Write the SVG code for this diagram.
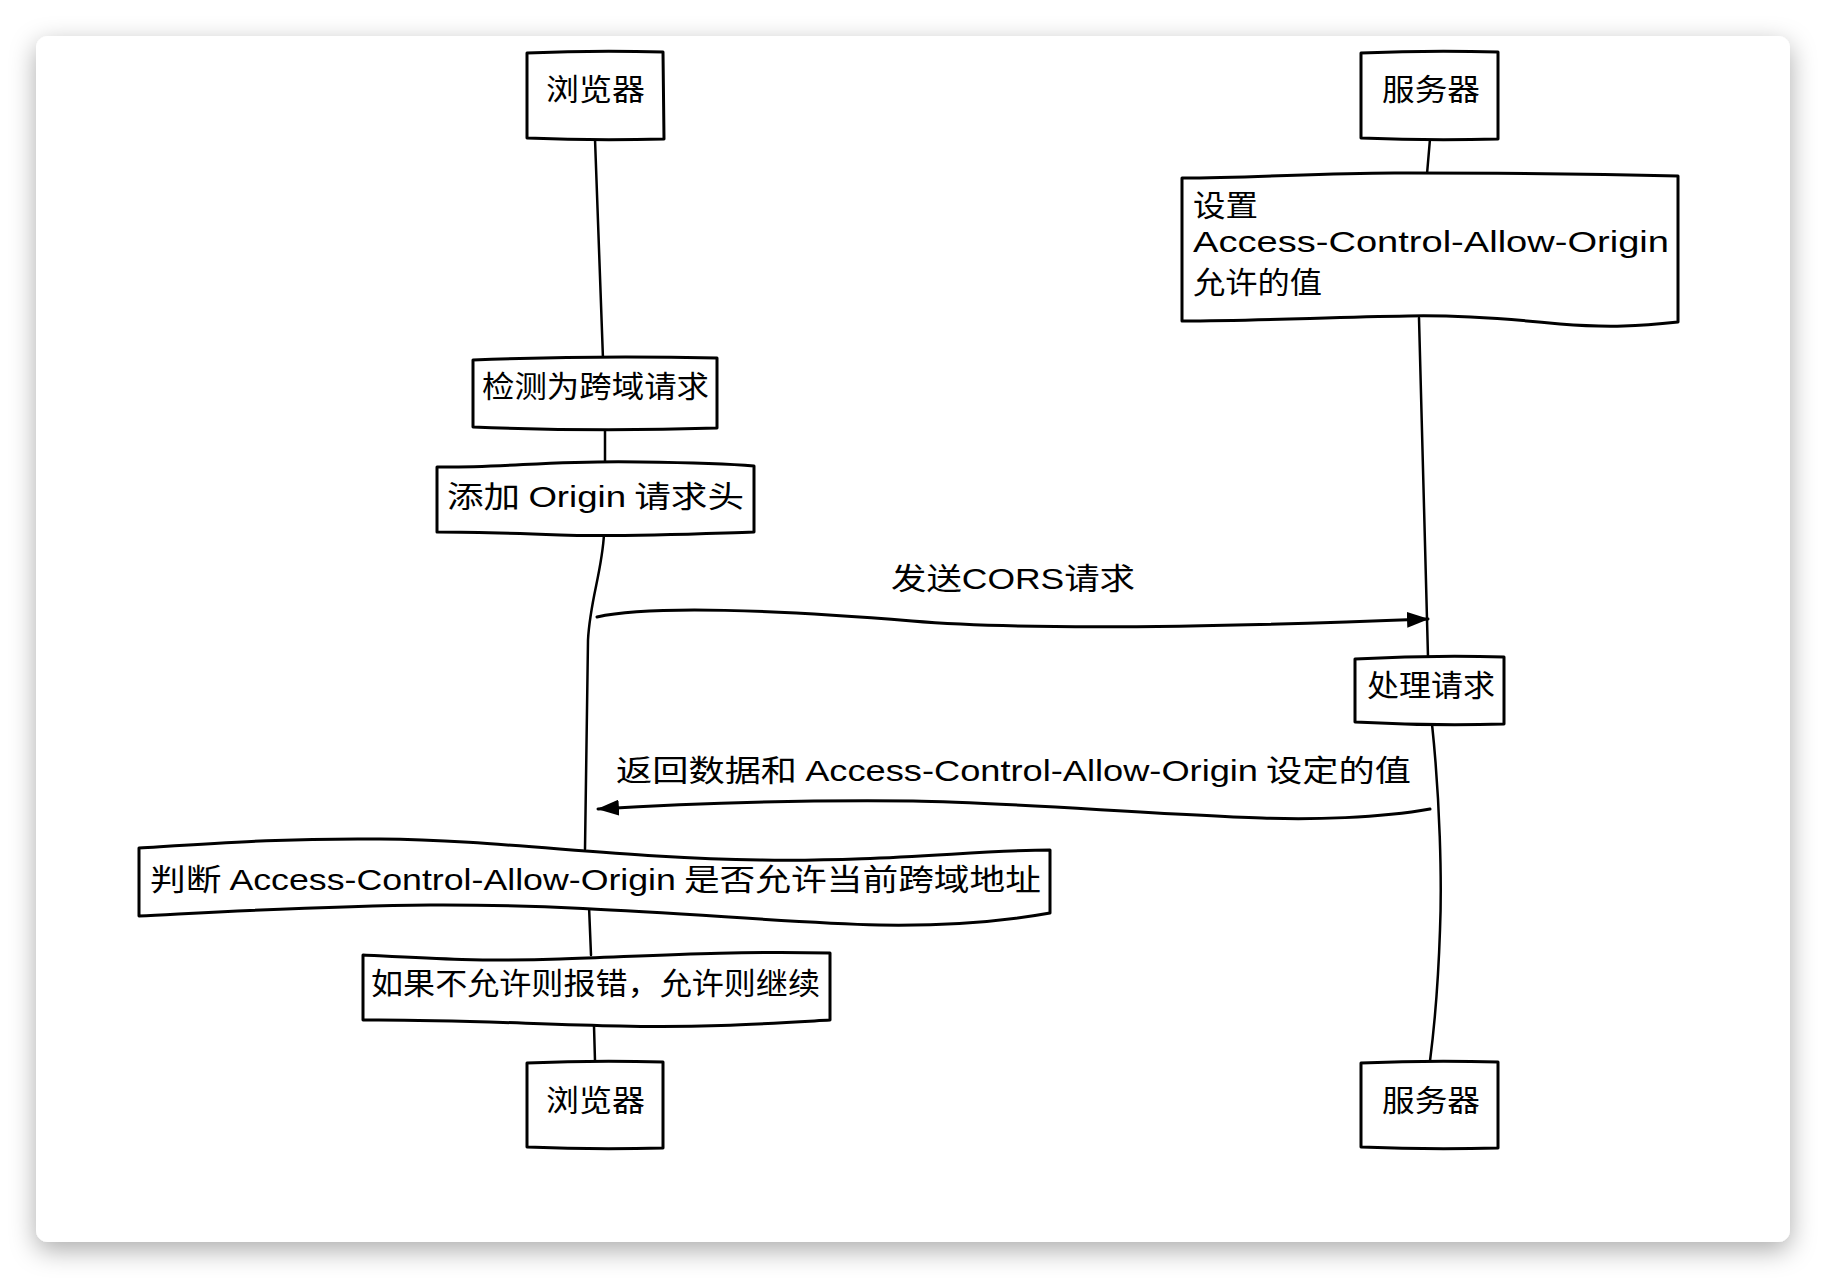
<svg xmlns="http://www.w3.org/2000/svg" width="1826" height="1278" viewBox="0 0 1826 1278">
  <defs>
    <filter id="shadow" x="-5%" y="-5%" width="110%" height="112%">
      <feDropShadow dx="0" dy="8" stdDeviation="13" flood-color="#000" flood-opacity="0.33"/>
    </filter>
    <marker id="arrow" viewBox="0 0 22 16" refX="21" refY="8" markerWidth="22" markerHeight="16" markerUnits="userSpaceOnUse" orient="auto">
      <path d="M0,0 L22,8 L0,16 Z" fill="#000"/>
    </marker>
    <style>
      .box { fill: #fff; stroke: #000; stroke-width: 3; stroke-linejoin: round; }
      .life { fill: none; stroke: #000; stroke-width: 2.5; stroke-linecap: round; }
      .msg { fill: none; stroke: #000; stroke-width: 3; stroke-linecap: round; }
      .t { font-family: "Noto Sans CJK SC", "Noto Sans", sans-serif; font-size: 30px; font-weight: 400; fill: #000; }
      .lat { font-family: "Liberation Sans", "Noto Sans", sans-serif; font-weight: 400; }
    </style>
  </defs>

  <rect x="0" y="0" width="1826" height="1278" fill="#fff"/>
  <rect x="36" y="36" width="1754" height="1206" rx="12" ry="12" fill="#fff" filter="url(#shadow)"/>

  <g id="connectors">
    <!-- browser lifeline -->
    <path class="life" d="M595,139 L603,359"/>
    <path class="life" d="M605,428 L605,465"/>
    <path class="life" d="M604,534 C602,572 590,600 588,640 L585,849"/>
    <path class="life" d="M589,906 L591,955"/>
    <path class="life" d="M594,1026 L595,1061"/>
    <!-- server lifeline -->
    <path class="life" d="M1430,139 L1427,174"/>
    <path class="life" d="M1419,318 L1428,657"/>
    <path class="life" d="M1432,724 C1440,800 1442,880 1440,930 C1438,990 1434,1030 1430,1061"/>
    <!-- messages -->
    <path class="msg" d="M597,617 C650,605 780,610 912,621 C1020,630 1200,628 1428,619" marker-end="url(#arrow)"/>
    <path class="msg" d="M1430,809 C1380,818 1310,820 1262,818 C1150,814 1000,802 913,801 C800,800 690,803 598,809" marker-end="url(#arrow)"/>
    <text class="t" x="891" y="589" textLength="244" lengthAdjust="spacingAndGlyphs">发送<tspan class="lat">CORS</tspan>请求</text>
    <text class="t" x="616" y="781" textLength="795" lengthAdjust="spacingAndGlyphs">返回数据和 <tspan class="lat">Access-Control-Allow-Origin</tspan> 设定的值</text>
  </g>

  <g id="browser-top">
    <path class="box" d="M527,53 Q595,50 663,52 L664,139 Q595,141 527,138 Z"/>
    <text class="t" x="546" y="100" textLength="99" lengthAdjust="spacingAndGlyphs">浏览器</text>
  </g>

  <g id="server-top">
    <path class="box" d="M1361,53 Q1430,50 1498,52 L1498,139 Q1430,141 1361,138 Z"/>
    <text class="t" x="1382" y="100" textLength="98" lengthAdjust="spacingAndGlyphs">服务器</text>
  </g>

  <g id="detect">
    <path class="box" d="M473,360 Q595,355 717,358 L717,428 Q595,432 473,427 Z"/>
    <text class="t" x="482" y="397" textLength="227" lengthAdjust="spacingAndGlyphs">检测为跨域请求</text>
  </g>

  <g id="add-origin">
    <path class="box" d="M437,467 C500,468 560,460 640,462 Q720,463 754,466 L754,532 C690,534 620,537 560,535 Q480,532 437,532 Z"/>
    <text class="t" x="447" y="507" textLength="297" lengthAdjust="spacingAndGlyphs">添加 <tspan class="lat">Origin</tspan> 请求头</text>
  </g>

  <g id="set-acao">
    <path class="box" d="M1182,178 C1260,178 1330,172 1408,173 C1500,173 1600,174 1678,176 L1678,322 C1640,326 1610,328 1560,324 C1500,318 1450,315 1408,316 C1330,317 1260,321 1182,321 Z"/>
    <text class="t" x="1193" y="216" textLength="65" lengthAdjust="spacingAndGlyphs">设置</text>
    <text class="t lat" x="1193" y="252" font-size="34" textLength="476" lengthAdjust="spacingAndGlyphs">Access-Control-Allow-Origin</text>
    <text class="t" x="1193" y="293" textLength="129" lengthAdjust="spacingAndGlyphs">允许的值</text>
  </g>

  <g id="handle">
    <path class="box" d="M1355,659 Q1430,655 1504,657 L1504,724 Q1430,726 1355,722 Z"/>
    <text class="t" x="1367" y="696" textLength="128" lengthAdjust="spacingAndGlyphs">处理请求</text>
  </g>

  <g id="judge">
    <path class="box" d="M139,848 C220,843 290,838 380,839 C500,840 620,858 760,860 C880,862 980,850 1050,850 L1050,913 C1000,922 940,926 879,925 C760,922 600,904 430,905 C320,906 220,912 139,916 Z"/>
    <text class="t" x="150" y="890" textLength="891" lengthAdjust="spacingAndGlyphs">判断 <tspan class="lat">Access-Control-Allow-Origin</tspan> 是否允许当前跨域地址</text>
  </g>

  <g id="decide">
    <path class="box" d="M363,955 C420,958 480,962 560,959 C650,956 720,951 830,953 L830,1020 C760,1024 700,1028 620,1026 C530,1024 440,1019 363,1020 Z"/>
    <text class="t" x="371" y="994" textLength="449" lengthAdjust="spacingAndGlyphs">如果不允许则报错，允许则继续</text>
  </g>

  <g id="browser-bottom">
    <path class="box" d="M527,1063 Q595,1060 663,1062 L663,1148 Q595,1150 527,1147 Z"/>
    <text class="t" x="546" y="1111" textLength="99" lengthAdjust="spacingAndGlyphs">浏览器</text>
  </g>

  <g id="server-bottom">
    <path class="box" d="M1361,1063 Q1430,1060 1498,1062 L1498,1148 Q1430,1150 1361,1147 Z"/>
    <text class="t" x="1382" y="1111" textLength="98" lengthAdjust="spacingAndGlyphs">服务器</text>
  </g>
</svg>
